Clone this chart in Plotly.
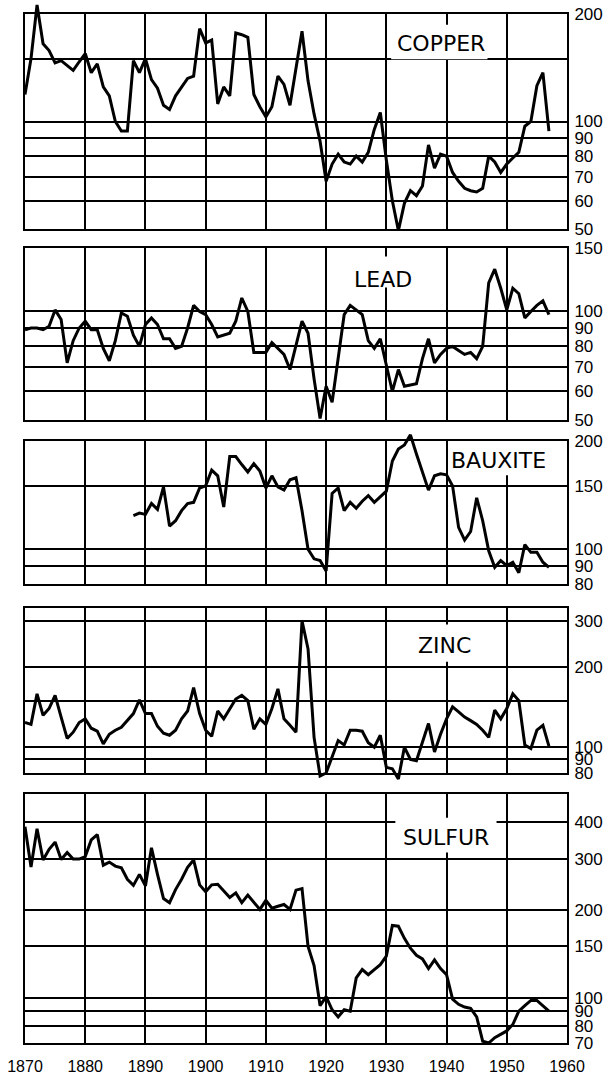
import math
import plotly.graph_objects as go

# Price indices
YEARS_COPPER = list(range(1870, 1958))
COPPER = [
    119, 150, 212, 165, 158, 146, 148, 143, 139, 147,
    155, 137, 145, 125, 118, 100, 94, 94, 148, 137,
    150, 131, 124, 111, 108, 118, 125, 132, 134, 182,
    166, 169, 112, 125, 118, 177, 175, 172, 119, 110,
    103, 110, 134, 127, 111, 141, 179, 130, 105, 88,
    68, 76, 81, 77, 76, 80, 77, 82, 95, 106,
    78, 60, 49.5, 59, 64, 62, 66, 86, 74, 81,
    80, 72, 68, 65, 64, 63.5, 65, 80, 77, 72,
    76, 79, 82, 97, 100, 126, 137, 94,
]

YEARS_LEAD = list(range(1870, 1958))
LEAD = [
    89, 90, 90, 89, 91, 101, 95, 72, 83, 90,
    94, 89, 89, 79, 73, 83, 99, 97, 86, 80,
    92, 96, 92, 84, 84, 79, 80, 90, 104, 100,
    98, 92, 85, 86, 87, 94, 109, 100, 77, 77,
    77, 82, 79, 76, 69, 80, 94, 87, 65, 50.5,
    62, 56, 75, 98, 104, 101, 98, 83, 79, 84,
    71, 60, 69, 62, 62.5, 63, 74, 84, 72, 76,
    79, 80, 78, 76, 77, 74, 80, 120, 131, 116,
    101, 116, 112, 96, 100, 104, 107, 98,
]

YEARS_BAUXITE = list(range(1888, 1958))
BAUXITE = [
    124, 126, 125, 134, 129, 149, 116, 120, 128, 134,
    135, 148, 150, 166, 160, 131, 181, 181, 172, 164,
    173, 165, 148, 160, 149, 146, 156, 158, 128, 100,
    94, 93, 87, 143, 148, 128, 135, 130, 136, 141,
    135, 140, 145, 176, 190, 195, 208, 184, 165, 146,
    160, 162, 161, 150, 115, 106, 112, 139, 120, 99,
    89, 93, 90, 92, 86, 103, 98, 98, 92, 89,
]

YEARS_ZINC = list(range(1870, 1958))
ZINC = [
    124, 122, 159, 132, 140, 157, 130, 108, 114, 124,
    128, 118, 115, 103, 112, 116, 119, 126, 134, 151,
    134, 134, 120, 113, 111, 116, 128, 137, 168, 134,
    116, 110, 137, 128, 140, 152, 157, 150, 117, 128,
    122, 140, 166, 128, 121, 114, 300, 235, 109, 78,
    80, 92, 106, 102, 116, 116, 115, 104, 100, 111,
    84, 83, 76, 100, 90, 89, 105, 123, 96, 112,
    128, 142, 136, 130, 126, 122, 116, 109, 138, 128,
    140, 159, 150, 102, 99, 116, 121, 101,
]

YEARS_SULFUR = list(range(1870, 1958))
SULFUR = [
    386, 281, 380, 297, 323, 342, 298, 315, 299, 299,
    305, 348, 363, 285, 292, 283, 279, 255, 243, 265,
    242, 327, 265, 219, 212, 235, 255, 280, 297, 244,
    231, 244, 245, 232, 221, 229, 212, 225, 213, 201,
    216, 203, 206, 209, 201, 234, 237, 150, 129, 94,
    101, 91, 86, 91, 90, 117, 125, 120, 125, 130,
    139, 177, 176, 160, 148, 140, 136, 126, 135, 126,
    120, 99, 95, 93, 92, 86, 71, 70, 73, 75,
    77, 81, 90, 94, 98, 98, 94, 90,
]

DECADES = list(range(1870, 1961, 10))

H = 1074
PAD = 14  # px of room for the curve to run past the frame

# geometry: top/bottom of each frame in px, log range, label centre, label box
panels = [
    dict(name="COPPER", years=YEARS_COPPER, vals=COPPER, top=14, bot=229, lo=50, hi=200,
         ticks=[50, 60, 70, 80, 90, 100, 150, 200],
         text=["50", "60", "70", "80", "90", "100", "", "200"],
         lx=1939.1, ly=0.865, box=(1930.8, 1946.8, 0.79, 0.95)),
    dict(name="LEAD", years=YEARS_LEAD, vals=LEAD, top=248, bot=420, lo=50, hi=150,
         ticks=[50, 60, 70, 80, 90, 100, 150],
         text=["50", "60", "70", "80", "90", "100", "150"],
         lx=1929.5, ly=0.815, box=(1923.8, 1935.3, 0.77, 0.95)),
    dict(name="BAUXITE", years=YEARS_BAUXITE, vals=BAUXITE, top=441, bot=584, lo=80, hi=200,
         ticks=[80, 90, 100, 150, 200],
         text=["80", "90", "100", "150", "200"],
         lx=1948.6, ly=0.867, box=(1940.8, 1956.2, 0.76, 1.0)),
    dict(name="ZINC", years=YEARS_ZINC, vals=ZINC, top=608, bot=773, lo=80, hi=335,
         ticks=[80, 90, 100, 150, 200, 300],
         text=["80", "90", "100", "", "200", "300"],
         lx=1939.6, ly=0.771, box=(1934.5, 1944.8, 0.675, 0.9)),
    dict(name="SULFUR", years=YEARS_SULFUR, vals=SULFUR, top=794, bot=1043, lo=70, hi=500,
         ticks=[70, 80, 90, 100, 150, 200, 300, 400],
         text=["70", "80", "90", "100", "150", "200", "300", "400"],
         lx=1939.9, ly=0.827, box=(1931.5, 1948.3, 0.765, 0.905)),
]

TICK_FONT = dict(family="Liberation Sans, Arial, sans-serif", size=17, color="black")
LABEL_FONT = dict(family="DejaVu Sans", size=22, color="black")

fig = go.Figure()
layout = dict(
    width=611, height=H,
    margin=dict(l=25, r=44, t=0, b=0),
    paper_bgcolor="white",
    plot_bgcolor="rgba(0,0,0,0)",
    showlegend=False,
    shapes=[], annotations=[],
)

for i, p in enumerate(panels, start=1):
    sfx = "" if i == 1 else str(i)
    d0 = 1 - p["bot"] / H
    d1 = 1 - p["top"] / H
    lo, hi = math.log10(p["lo"]), math.log10(p["hi"])
    per_px = (hi - lo) / (p["bot"] - p["top"])
    pad_top = min(PAD, p["top"])
    pad_bot = min(PAD, H - p["bot"])

    # framed grid panel
    layout[f"xaxis{sfx}"] = dict(
        domain=[0, 1], anchor=f"y{sfx}", range=[1870, 1960],
        tickvals=DECADES, ticktext=[str(d) for d in DECADES],
        showgrid=True, gridcolor="black", gridwidth=2,
        showline=True, linecolor="black", linewidth=2, mirror=True,
        ticks="", showticklabels=(i == len(panels)), tickfont=dict(TICK_FONT, size=16),
        ticklabelstandoff=8, zeroline=False, fixedrange=True, automargin=False,
    )
    layout[f"yaxis{sfx}"] = dict(
        domain=[d0, d1], anchor=f"x{sfx}", type="log", range=[lo, hi], side="right",
        tickvals=p["ticks"], ticktext=p["text"], tickfont=TICK_FONT,
        showgrid=True, gridcolor="black", gridwidth=2,
        showline=True, linecolor="black", linewidth=2, mirror=True,
        ticks="", ticklabelstandoff=2, zeroline=False, fixedrange=True, automargin=False,
    )

    # invisible overlay with the same scale, slightly taller, so peaks can leave the frame
    j = i + len(panels)
    layout[f"xaxis{j}"] = dict(domain=[0, 1], anchor=f"y{j}", range=[1870, 1960],
                               visible=False, fixedrange=True)
    layout[f"yaxis{j}"] = dict(domain=[d0 - pad_bot / H, d1 + pad_top / H], anchor=f"x{j}",
                               type="log", range=[lo - pad_bot * per_px, hi + pad_top * per_px],
                               visible=False, fixedrange=True)

    fig.add_trace(go.Scatter(
        x=p["years"], y=p["vals"], xaxis=f"x{j}", yaxis=f"y{j}",
        mode="lines", line=dict(color="black", width=3), hoverinfo="skip",
    ))

    # white patch behind the panel name, breaking the grid like the original
    bx0, bx1, by0, by1 = p["box"]
    layout["shapes"].append(dict(
        type="rect", layer="above", xref=f"x{sfx}", yref=f"y{sfx} domain",
        x0=bx0, x1=bx1, y0=by0, y1=by1, fillcolor="white", line=dict(width=0),
    ))
    layout["annotations"].append(dict(
        text=p["name"], xref=f"x{sfx}", yref=f"y{sfx} domain",
        x=p["lx"], y=p["ly"], showarrow=False, font=LABEL_FONT,
        xanchor="center", yanchor="middle",
    ))

fig.update_layout(**layout)
fig.write_html("out.html", config={"displayModeBar": False},
               post_script="document.body.style.margin='0';")
